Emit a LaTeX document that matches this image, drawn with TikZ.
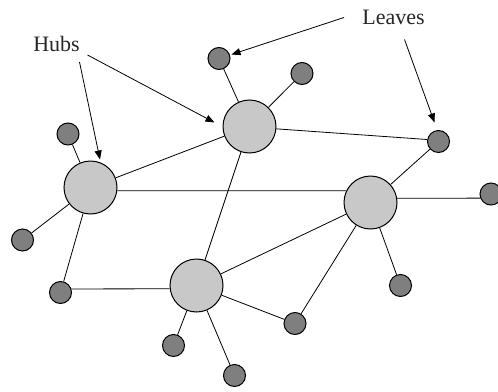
\documentclass[tikz,border=0pt]{standalone}
\usepackage{fontspec}
\setmainfont{Liberation Serif}
\usetikzlibrary{arrows.meta}
\definecolor{hubgray}{RGB}{200,200,200}
\definecolor{leafgray}{RGB}{127,127,127}
\begin{document}
\begin{tikzpicture}[x=1pt,y=-1pt,
  hub/.style={circle,draw=black,line width=1pt,fill=hubgray,minimum size=53pt,inner sep=0pt},
  leaf/.style={circle,draw=black,line width=1pt,fill=leafgray,minimum size=22pt,inner sep=0pt},
  edge/.style={draw=black,line width=0.8pt},
  pointer/.style={draw=black,line width=0.8pt,-{Triangle[length=9pt,width=7pt]}},
  lbl/.style={font=\fontsize{22}{24}\selectfont,text=black!85,inner sep=0pt}]
\useasboundingbox (0,0) rectangle (498,391);
% hubs
\node[hub] (h1) at (249.5,126.5) {};
\node[hub] (h2) at (90.5,187.5) {};
\node[hub] (h3) at (370.5,202.5) {};
\node[hub] (h4) at (196.5,285.5) {};
% leaves
\node[leaf] (l1) at (219,58.5) {};
\node[leaf] (l2) at (302,73.5) {};
\node[leaf] (l3) at (438.5,141.5) {};
\node[leaf] (l4) at (68,134) {};
\node[leaf] (l5) at (22.5,240) {};
\node[leaf] (l6) at (60.5,292.5) {};
\node[leaf] (l7) at (491,194) {};
\node[leaf] (l8) at (400.5,285.5) {};
\node[leaf] (l9) at (295,323.5) {};
\node[leaf] (l10) at (173.5,345.5) {};
\node[leaf] (l11) at (234.5,375.5) {};
% edges
\draw[edge] (l1) -- (h1);
\draw[edge] (l2) -- (h1);
\draw[edge] (h1.-5) -- (l3.170);
\draw[edge] (h1) -- (h2);
\draw[edge] (h1) -- (h4);
\draw[edge] (l4) -- (h2);
\draw[edge] (l5) -- (h2);
\draw[edge] (h2) -- (l6);
\draw[edge] (l6.18.5) -- (h4.187.6);
\draw[edge] (h2.-7.6) -- (h3.154.3);
\draw[edge] (h4) -- (h3);
\draw[edge] (h3) -- (l3);
\draw[edge] (h3.9.8) -- (l7.201.3);
\draw[edge] (h3) -- (l8);
\draw[edge] (h3) -- (l9);
\draw[edge] (h4) -- (l9);
\draw[edge] (h4) -- (l10);
\draw[edge] (h4) -- (l11);
% labels
\node[lbl] (hubs) at (56.5,44) {Hubs};
\node[lbl] (leaves) at (393.5,17) {Leaves};
\coordinate (hA) at (79.5,62);
\coordinate (hB) at (87.5,55);
\coordinate (lA) at (344,17.5);
\coordinate (lB) at (404.5,39.5);
\coordinate (tH2) at (100,159.5);
\coordinate (tH1) at (214.5,122.5);
\coordinate (tL1) at (231.5,54.5);
\coordinate (tL3) at (434.5,122.5);
\draw[pointer] (hA) -- (tH2);
\draw[pointer] (hB) -- (tH1);
\draw[pointer] (lA) -- (tL1);
\draw[pointer] (lB) -- (tL3);
\end{tikzpicture}
\end{document}
